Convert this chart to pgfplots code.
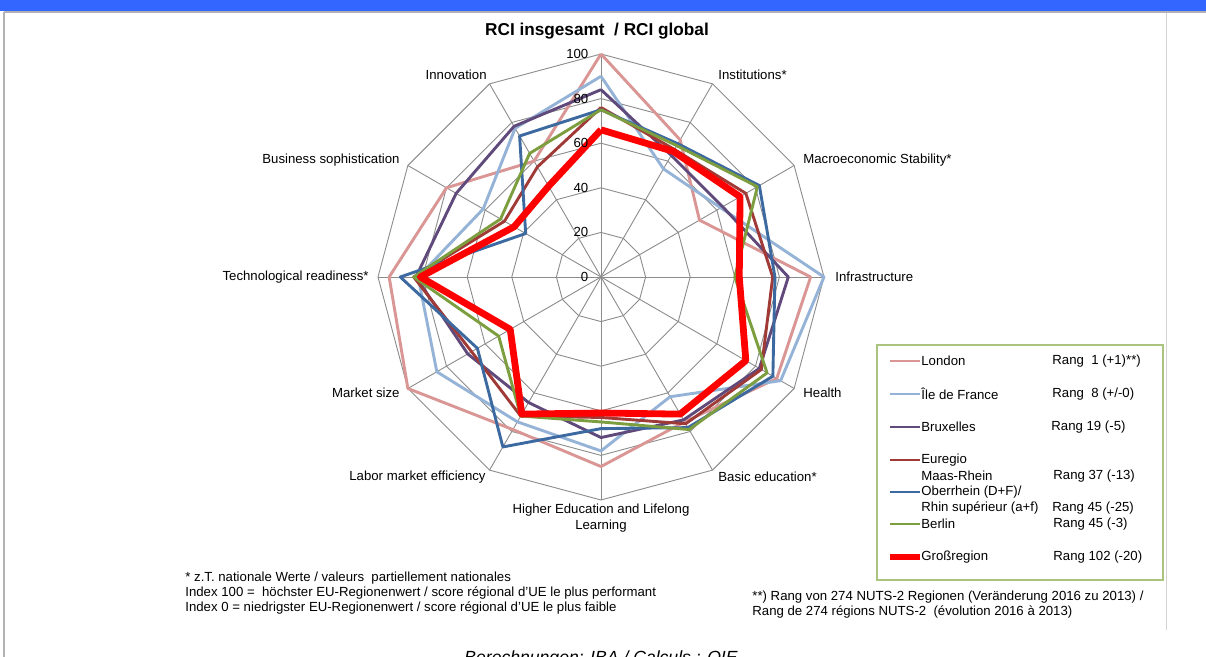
\documentclass[border=0pt]{standalone}
\usepackage{fontspec}
\setmainfont{Liberation Sans}
\usepackage{pgfplots}
\pgfplotsset{compat=1.18}
\usepackage{pgfplotstable}

\pgfplotstableread{
ang lon idf bru eur obe ber gro
90 100 90 84 76 75 75 66
60 71 56 63 66 69 68 65
30 51 62 63 75 82 81 72
0 94 100 84 77 78 60 62
-30 91 93 82 83 89 86 75
-60 75 62 74 76 78 79 71
-90 85 78 72 63 68 65 61
-120 79 75 65 72 88 72 71
-150 100 85 69 67 64 53 47
-180 95 82 83 84 90 84 81
-210 80 61 75 50 39 52 45
-240 60 77 78 57 73 64 47
-270 100 90 84 76 75 75 66
}\rci

\definecolor{clon}{RGB}{217,150,148}
\definecolor{cidf}{RGB}{149,179,215}
\definecolor{cbru}{RGB}{96,74,123}
\definecolor{ceur}{RGB}{160,58,55}
\definecolor{cobe}{RGB}{60,105,160}
\definecolor{cber}{RGB}{125,158,62}
\definecolor{cgro}{RGB}{255,0,0}
\definecolor{gridc}{RGB}{140,140,140}
\definecolor{hdr}{RGB}{51,102,255}
\definecolor{legb}{RGB}{170,196,128}

\newcommand\lab{\fontsize{6.6}{8}\selectfont}
\newcommand\foot{\fontsize{6.6}{7.5}\selectfont}

\begin{document}
\begin{tikzpicture}
\useasboundingbox (0,0) rectangle (603pt,328.5pt);
\fill[white] (0,0) rectangle (603pt,328.5pt);
\fill[hdr] (0,322.8pt) rectangle (603pt,328.5pt);
\draw[gray!60, line width=0.8pt] (2pt,322.4pt) -- (603pt,322.4pt);
\draw[gray!60, line width=0.6pt] (2pt,0) -- (2pt,322.5pt);
\draw[gray!35, line width=0.5pt] (583pt,13.5pt) -- (583pt,322.2pt);

\begin{axis}[at={(300.5pt,190pt)}, anchor=center, width=223pt, height=223pt,
  scale only axis, xmin=-100, xmax=100, ymin=-100, ymax=100, hide axis, clip=false]
\pgfplotsinvokeforeach{20,40,60,80,100}{
  \addplot[gridc, line width=0.45pt, mark=none] table[x expr={#1*cos(\thisrow{ang})}, y expr={#1*sin(\thisrow{ang})}] {\rci};
}
\pgfplotsinvokeforeach{0,30,...,330}{
  \addplot[gridc, line width=0.45pt, mark=none] coordinates {(0,0) ({100*cos(#1)},{100*sin(#1)})};
}
\addplot[clon, line width=1.45pt, line join=round, mark=none] table[x expr={\thisrow{lon}*cos(\thisrow{ang})}, y expr={\thisrow{lon}*sin(\thisrow{ang})}] {\rci};
\addplot[cidf, line width=1.45pt, line join=round, mark=none] table[x expr={\thisrow{idf}*cos(\thisrow{ang})}, y expr={\thisrow{idf}*sin(\thisrow{ang})}] {\rci};
\addplot[cbru, line width=1.45pt, line join=round, mark=none] table[x expr={\thisrow{bru}*cos(\thisrow{ang})}, y expr={\thisrow{bru}*sin(\thisrow{ang})}] {\rci};
\addplot[ceur, line width=1.45pt, line join=round, mark=none] table[x expr={\thisrow{eur}*cos(\thisrow{ang})}, y expr={\thisrow{eur}*sin(\thisrow{ang})}] {\rci};
\addplot[cobe, line width=1.45pt, line join=round, mark=none] table[x expr={\thisrow{obe}*cos(\thisrow{ang})}, y expr={\thisrow{obe}*sin(\thisrow{ang})}] {\rci};
\addplot[cber, line width=1.45pt, line join=round, mark=none] table[x expr={\thisrow{ber}*cos(\thisrow{ang})}, y expr={\thisrow{ber}*sin(\thisrow{ang})}] {\rci};
\addplot[cgro, line width=3.4pt, line join=round, mark=none] table[x expr={\thisrow{gro}*cos(\thisrow{ang})}, y expr={\thisrow{gro}*sin(\thisrow{ang})}] {\rci};
\pgfplotsinvokeforeach{0,20,40,60,80,100}{
  \node[anchor=east, inner sep=0pt, font=\lab] at (axis cs:-5.5,#1) {#1};
}
\end{axis}

% category labels
\node[font=\fontsize{8.6}{10}\selectfont\bfseries] at (298.5pt,312.8pt) {RCI insgesamt\ \ / RCI global};
\node[anchor=east, inner sep=0pt, font=\lab] at (243.5pt,291pt) {Innovation};
\node[anchor=west, inner sep=0pt, font=\lab] at (359pt,291pt) {Institutions*};
\node[anchor=west, inner sep=0pt, font=\lab] at (401.5pt,248.5pt) {Macroeconomic Stability*};
\node[anchor=west, inner sep=0pt, font=\lab] at (417.5pt,190pt) {Infrastructure};
\node[anchor=west, inner sep=0pt, font=\lab] at (401.5pt,132pt) {Health};
\node[anchor=west, inner sep=0pt, font=\lab] at (359pt,90pt) {Basic education*};
\node[anchor=north, inner sep=0pt, align=center, font=\lab] at (300.5pt,76.5pt) {Higher Education and Lifelong\\Learning};
\node[anchor=east, inner sep=0pt, font=\lab] at (243pt,90pt) {Labor market efficiency};
\node[anchor=east, inner sep=0pt, font=\lab] at (200pt,132pt) {Market size};
\node[anchor=east, inner sep=0pt, font=\lab] at (184.5pt,190pt) {Technological readiness*};
\node[anchor=east, inner sep=0pt, font=\lab] at (200pt,248.5pt) {Business sophistication};

% legend
\draw[legb, line width=0.6pt] (438.5pt,38.5pt) rectangle (581.5pt,156pt);
\foreach \y/\c/\w in {148/clon/1.45pt, 131.5/cidf/1.45pt, 115/cbru/1.45pt, 98.5/ceur/1.45pt, 82.5/cobe/1.45pt, 66.5/cber/1.45pt, 50/cgro/3.4pt}{
  \draw[\c, line width=\w] (445pt,\y pt) -- (460pt,\y pt);
}
\begin{scope}[every node/.style={anchor=west, inner sep=0pt, font=\lab}]
\node at (460.5pt,148pt) {London};
\node at (460.5pt,131.5pt) {Île de France};
\node at (460.5pt,115pt) {Bruxelles};
\node at (460.5pt,98.5pt) {Euregio};
\node at (460.5pt,90.5pt) {Maas-Rhein};
\node at (460.5pt,82.5pt) {Oberrhein (D+F)/};
\node at (460.5pt,74.5pt) {Rhin supérieur (a+f)};
\node at (460.5pt,66.5pt) {Berlin};
\node at (460.5pt,50pt) {Großregion};
\node at (526pt,148pt) {Rang\ \ 1 (+1)**)};
\node at (526pt,131.5pt) {Rang\ \ 8 (+/-0)};
\node at (525.5pt,115pt) {Rang 19 (-5)};
\node at (526.5pt,90.5pt) {Rang 37 (-13)};
\node at (526pt,74.5pt) {Rang 45 (-25)};
\node at (526.5pt,66.5pt) {Rang 45 (-3)};
\node at (526.5pt,50pt) {Rang 102 (-20)};
\end{scope}

% footnotes
\begin{scope}[every node/.style={anchor=west, inner sep=0pt, font=\foot}]
\node at (92.5pt,39.5pt) {* z.T. nationale Werte / valeurs\ \ partiellement nationales};
\node at (92.5pt,32pt) {Index 100 =\ \ höchster EU-Regionenwert / score régional d'UE le plus performant};
\node at (92.5pt,24.5pt) {Index 0 = niedrigster EU-Regionenwert / score régional d'UE le plus faible};
\node at (376pt,30pt) {**) Rang von 274 NUTS-2 Regionen (Veränderung 2016 zu 2013) /};
\node at (376pt,22.5pt) {Rang de 274 régions NUTS-2\ \ (évolution 2016 à 2013)};
\end{scope}
\node[anchor=base, inner sep=0pt, font=\fontsize{8.8}{10}\selectfont\itshape] at (300.5pt,-3.4pt) {Berechnungen: IBA / Calculs : OIE};
\end{tikzpicture}
\end{document}
